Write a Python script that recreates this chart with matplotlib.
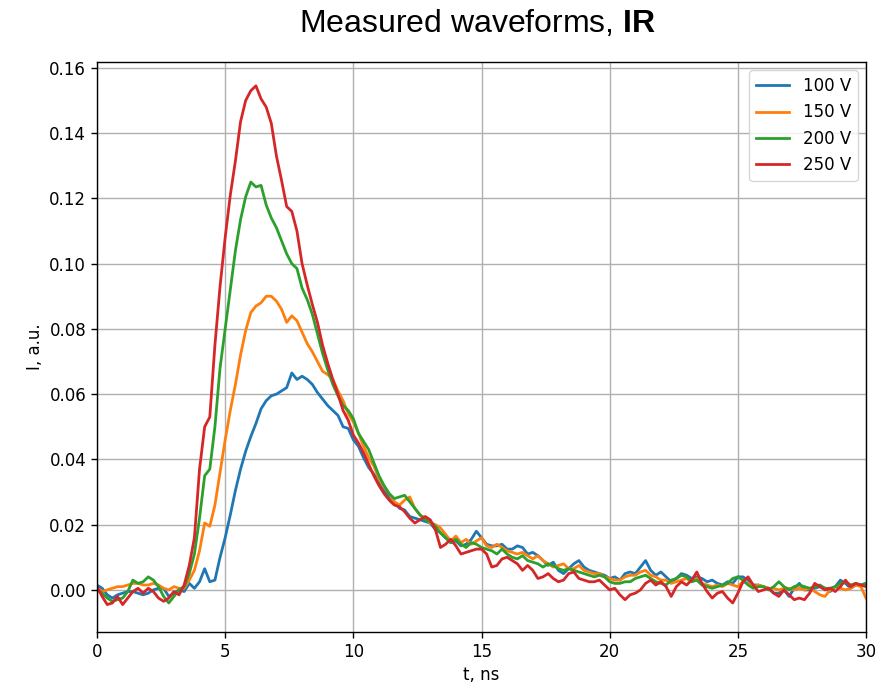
import numpy as np
import matplotlib
matplotlib.use("Agg")
import matplotlib.pyplot as plt

# time grid, ns
t_ns = np.round(np.arange(0, 30.001, 0.2), 2)

# currents in units of 1e-3 a.u., every 0.2 ns
i_100V = [
    1.5, 0.5, -1.5, -2.5, -1.5, -1.0, -0.5, -0.5, -1.0, -1.5,
    -1.0, 0.0, 0.5, 0.5, -2.0, -1.0, 0.0, -0.5, 2.0, 0.5,
    2.5, 6.5, 2.5, 3.0, 10.0, 16.0, 23.0, 30.5, 37.0, 42.5,
    47.0, 51.0, 55.5, 58.0, 59.5, 60.0, 61.0, 62.0, 66.5, 64.5,
    65.5, 64.5, 63.0, 60.5, 58.5, 56.5, 55.0, 53.5, 50.0, 49.5,
    46.0, 44.0, 40.5, 37.5, 35.5, 33.0, 30.5, 28.5, 27.0, 25.0,
    24.5, 22.5, 22.0, 21.5, 21.0, 20.5, 18.5, 17.5, 16.0, 14.5,
    15.0, 13.5, 14.0, 15.5, 18.0, 16.0, 14.0, 13.5, 13.5, 14.0,
    12.5, 12.5, 13.5, 13.0, 11.0, 11.5, 10.5, 9.0, 7.5, 8.5,
    6.0, 5.0, 6.5, 8.0, 9.0, 7.0, 6.0, 5.5, 5.0, 4.5,
    3.5, 4.0, 3.0, 5.0, 5.5, 5.0, 7.0, 9.0, 6.0, 4.5,
    5.5, 4.0, 2.5, 3.5, 5.0, 4.5, 3.5, 4.0, 3.5, 2.5,
    3.0, 2.0, 1.5, 2.5, 2.0, 4.0, 4.0, 3.0, 1.5, 1.5,
    1.0, 0.5, -1.0, -1.0, 0.0, -2.0, 0.5, 2.0, 0.0, 0.0,
    0.5, 1.0, 0.5, -0.5, 1.0, 3.0, 2.0, 0.5, 1.5, 1.5,
    2.0,
]
i_150V = [
    0.5, -0.5, 0.0, 0.5, 1.0, 1.0, 1.5, 2.0, 2.0, 1.5,
    1.5, 2.0, 1.5, 0.5, 0.0, 1.0, 0.5, 0.5, 3.0, 6.0,
    12.0, 20.5, 19.5, 26.0, 36.0, 46.0, 55.0, 63.0, 72.0, 79.5,
    85.0, 87.0, 88.0, 90.0, 90.0, 88.5, 86.0, 82.0, 84.0, 82.5,
    79.0, 75.5, 73.0, 70.0, 67.0, 66.0, 64.5, 61.0, 58.0, 54.0,
    51.5, 48.0, 44.0, 40.5, 38.0, 34.0, 31.5, 29.5, 27.0, 26.0,
    27.5, 28.5, 25.0, 23.0, 22.0, 20.5, 20.0, 19.0, 17.0, 15.0,
    16.5, 14.5, 15.5, 14.0, 15.0, 16.0, 13.5, 13.0, 14.0, 13.0,
    12.0, 11.5, 11.0, 11.5, 10.5, 9.5, 10.5, 9.0, 8.0, 7.0,
    7.5, 8.0, 6.5, 6.5, 7.5, 6.0, 5.5, 5.0, 5.0, 4.0,
    3.5, 3.0, 3.0, 4.0, 4.5, 4.5, 5.5, 6.0, 4.5, 4.0,
    3.0, 3.0, 2.0, 2.5, 3.0, 3.5, 2.5, 3.5, 2.0, 1.5,
    1.0, 1.5, 1.0, 2.0, 1.5, 1.0, 2.5, 2.0, 1.0, 1.5,
    1.0, 0.5, 0.5, 0.0, 0.5, 0.5, 0.0, 0.5, 0.0, 0.5,
    -0.5, -1.5, -2.0, 0.0, 1.0, 0.5, 0.0, 0.5, 1.5, 1.0,
    -2.5,
]
i_200V = [
    0.0, -1.0, -2.5, -3.5, -3.0, -2.5, -0.5, 3.0, 2.0, 2.5,
    4.0, 3.0, 1.0, -2.0, -4.0, -2.0, 0.0, 1.0, 5.0, 11.0,
    22.0, 35.0, 37.0, 50.0, 68.0, 80.0, 92.0, 104.0, 113.5, 120.5,
    125.0, 123.5, 124.0, 118.0, 114.0, 111.0, 107.0, 103.0, 100.0, 98.5,
    92.5, 89.0, 84.5, 78.5, 72.5, 67.5, 63.0, 59.5, 56.5, 55.0,
    52.5, 48.0, 45.5, 43.0, 39.0, 35.0, 32.0, 29.5, 28.0, 28.5,
    29.0, 27.0, 25.0, 23.0, 21.5, 21.0, 19.5, 17.5, 16.0, 14.5,
    15.5, 14.0, 13.0, 14.5, 14.0, 13.0, 12.5, 12.0, 11.0, 12.5,
    11.0, 10.0, 9.5, 10.5, 9.0, 8.5, 8.0, 7.0, 8.0, 7.5,
    6.5, 6.0, 6.5, 6.0, 5.5, 5.0, 4.5, 4.0, 4.5, 4.0,
    2.5, 2.0, 2.0, 2.5, 2.5, 3.5, 4.0, 4.5, 3.5, 2.5,
    2.0, 1.5, 3.0, 3.5, 4.5, 4.0, 2.5, 3.0, 1.5, 1.0,
    0.5, 1.0, 1.5, 2.0, 3.5, 4.0, 3.0, 1.5, 0.5, 1.0,
    1.0, 0.0, 1.0, 2.5, 1.0, 0.0, 1.0, 1.5, 1.0, 0.5,
    1.0, 1.5, 0.5, 0.5, 1.0, 2.0, 2.5, 1.5, 2.0, 1.5,
    2.0,
]
i_250V = [
    1.0, -2.0, -4.5, -4.0, -2.0, -4.5, -2.5, -0.5, 0.5, -1.0,
    0.5, -0.5, -2.5, -3.5, -2.5, -0.5, -1.5, 1.5, 7.5, 16.0,
    37.0, 50.0, 53.0, 75.0, 93.0, 108.0, 121.0, 131.5, 143.5, 150.0,
    153.0, 154.5, 150.5, 148.0, 143.0, 133.0, 125.5, 117.5, 116.0, 110.0,
    100.0, 93.5, 87.5, 82.0, 75.0, 69.5, 64.5, 60.0, 55.0, 52.0,
    47.5, 45.0, 42.0, 38.5, 35.0, 32.0, 29.5, 27.5, 26.0, 25.5,
    24.0, 22.0, 20.5, 21.5, 22.5, 21.5, 18.5, 13.0, 14.0, 15.5,
    13.5, 11.0, 11.5, 12.0, 12.5, 12.5, 11.0, 7.0, 7.5, 9.5,
    10.0, 9.0, 8.0, 6.0, 7.5, 6.0, 3.5, 4.0, 5.0, 3.5,
    2.5, 3.0, 5.0, 5.5, 3.5, 3.0, 2.5, 2.5, 3.0, 1.5,
    0.0, 0.5, -1.5, -3.0, -1.5, -1.0, 0.0, 2.0, 3.0, 1.5,
    2.5, 1.0, -2.0, 1.0, 2.5, 1.5, 3.0, 5.5, 2.0, -0.5,
    -2.5, -1.0, -0.5, -2.5, -4.0, -1.0, 2.5, 4.0, 1.5, -0.5,
    0.0, 0.5, -1.0, -2.0, 0.0, -1.5, -3.0, -2.5, -3.0, -1.0,
    2.0, 1.0, 0.0, 0.5, -0.5, 1.0, 3.0, 1.0, 2.0, 1.5,
    1.0,
]
labels = ["100 V", "150 V", "200 V", "250 V"]
series = [i_100V, i_150V, i_200V, i_250V]

plt.rcParams['mathtext.fontset'] = 'custom'
plt.rcParams['mathtext.rm'] = 'Liberation Sans'
plt.rcParams['mathtext.bf'] = 'Liberation Sans:bold'

fig = plt.figure(figsize=(8.84, 6.90), dpi=100)
ax = fig.add_axes([97/884, 1-632/690, (866-97)/884, (632-62)/690])

for lab, vals in zip(labels, series):
    ax.plot(t_ns, np.array(vals) * 1e-3, label=lab, lw=2.0)

ax.set_xlim(0, 30)
ax.set_ylim(-0.0129, 0.1618)
ax.grid(True, lw=1.0, color='#b0b0b0')
fs = 12
ax.tick_params(labelsize=fs, length=4.3, width=1.0)
ax.set_xlabel("t, ns", fontsize=fs)
ax.set_ylabel("I, a.u.", fontsize=fs)
for s in ax.spines.values():
    s.set_linewidth(1.0)
ax.legend(loc='upper right', fontsize=fs)

fig.text(0.54, 1-23/690, r"Measured waveforms, $\mathbf{IR}$",
         ha='center', va='center', fontsize=23, family='Liberation Sans')

fig.savefig("out.png", dpi=100)
